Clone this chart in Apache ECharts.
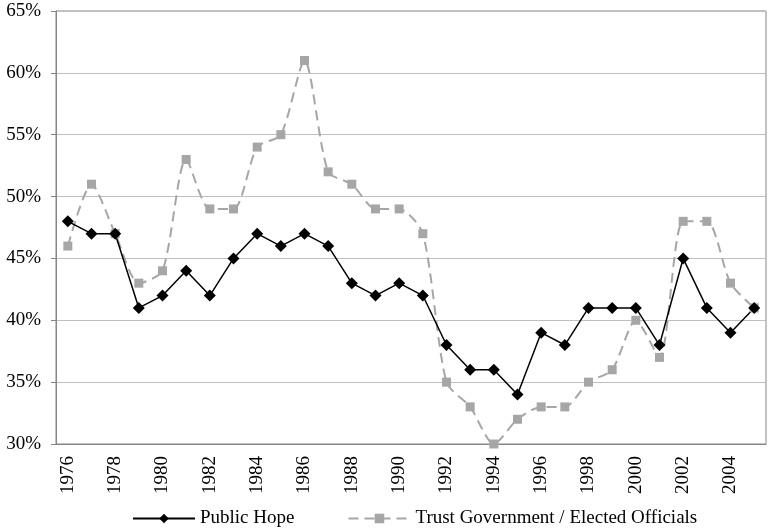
<!DOCTYPE html>
<html>
<head>
<meta charset="utf-8">
<script src="https://cdn.jsdelivr.net/npm/echarts@6/dist/echarts.min.js"></script>
<style>html,body{margin:0;padding:0;background:#fff}#c{width:772px;height:531px}</style>
</head>
<body>
<div id="c"></div>
<script>
const years = ['1976','1977','1978','1979','1980','1981','1982','1983','1984','1985','1986','1987','1988','1989','1990','1991','1992','1993','1994','1995','1996','1997','1998','1999','2000','2001','2002','2003','2004','2005'];
const publicHope = [48,47,47,41,42,44,42,45,47,46,47,46,43,42,43,42,38,36,36,34,39,38,41,41,41,38,45,41,39,41];
const trustGov = [46,51,47,43,44,53,49,49,54,55,61,52,51,49,49,47,35,33,30,32,33,33,35,36,40,37,48,48,43,41];
const seriesNames = ['Public Hope','Trust Government / Elected Officials'];

const chart = echarts.init(document.getElementById('c'));
const font = 'Liberation Serif, Times New Roman, serif';
chart.setOption({
  animation: false,
  grid: {left: 56, right: 6, top: 11, bottom: 87, show: true, borderColor: '#868686', borderWidth: 1},
  xAxis: {
    type: 'category', data: years, boundaryGap: true,
    axisLine: {lineStyle: {color: '#868686'}},
    axisTick: {interval: 0, length: 5, lineStyle: {color: '#868686'}},
    axisLabel: {interval: 1, rotate: 90, color: '#000', fontFamily: font, fontSize: 19, margin: 12}
  },
  yAxis: {
    type: 'value', min: 30, max: 65, interval: 5,
    axisLine: {show: true, lineStyle: {color: '#868686'}},
    axisTick: {show: true, length: 5, lineStyle: {color: '#868686'}},
    splitLine: {lineStyle: {color: '#BFBFBF'}},
    axisLabel: {formatter: '{value}%', color: '#000', fontFamily: font, fontSize: 19, margin: 15}
  },
  legend: {
    top: 504, left: 127, itemWidth: 62, itemHeight: 12, itemGap: 53,
    textStyle: {fontFamily: font, fontSize: 19, color: '#000'},
    data: seriesNames
  },
  series: [
    {
      name: seriesNames[1], type: 'line', data: trustGov, smooth: 0.25,
      symbol: 'rect', symbolSize: 9,
      lineStyle: {color: '#A6A6A6', width: 2, type: [10, 6]},
      itemStyle: {color: '#A6A6A6'}
    },
    {
      name: seriesNames[0], type: 'line', data: publicHope,
      symbol: 'diamond', symbolSize: 12,
      lineStyle: {color: '#000', width: 1.5},
      itemStyle: {color: '#000'}
    }
  ]
});
</script>
</body>
</html>
